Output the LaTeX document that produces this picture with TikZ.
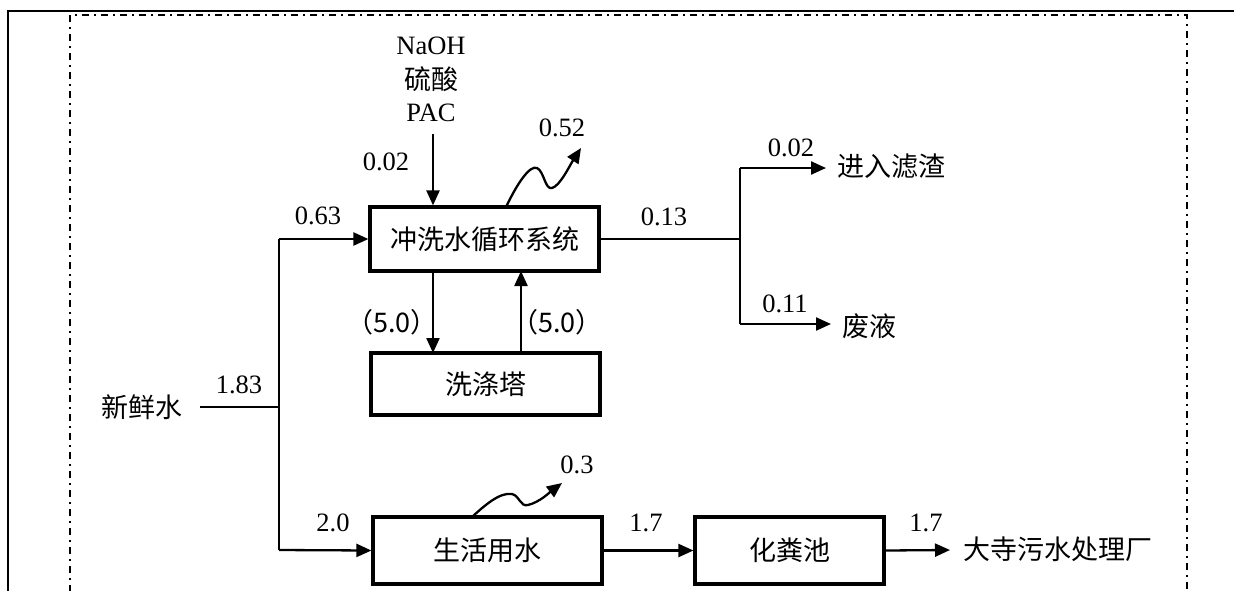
\documentclass[tikz,border=0pt]{standalone}
\usepackage{fontspec}
\setmainfont{Liberation Serif}
\newfontfamily\cjk{Noto Sans CJK SC}
\usetikzlibrary{arrows.meta}
\begin{document}
\begin{tikzpicture}[x=1pt,y=-1pt,
  procbox/.style={draw, line width=3.2pt, inner sep=0pt, minimum width=229pt, minimum height=64pt, font=\cjk\fontsize{27}{30}\selectfont},
  lbl/.style={inner sep=0pt, font=\fontsize{26.5}{30}\selectfont},
  clbl/.style={inner sep=0pt, font=\cjk\fontsize{27}{30}\selectfont},
  conn/.style={line width=2.3pt},
  arr/.style={line width=2.3pt, -{Triangle[length=15pt,width=13pt]}},
  frame/.style={line width=2.5pt},
  dd/.style={line width=1.6pt, dash pattern=on 7pt off 5pt on 2pt off 5pt}]
\useasboundingbox (0,0) rectangle (1234,590);
% frames
\draw[frame] (8,592) -- (8,11) -- (1236,11);
\draw[dd] (70,592) -- (70,15) -- (1187,15) -- (1187,592);

% boxes
\node[procbox] (wash) at (484.5,239) {冲洗水循环系统};
\node[procbox, minimum height=62pt] (tower) at (485.5,384) {洗涤塔};
\node[procbox, minimum height=67pt] (life) at (487.5,550.5) {生活用水};
\node[procbox, minimum width=189pt, minimum height=67pt] (septic) at (789.5,550.5) {化粪池};

% texts
\node[clbl] (fresh) at (142,407) {新鲜水};
\node[lbl] (naoh) at (431,46) {NaOH};
\node[clbl] (acid) at (431,79) {硫酸};
\node[lbl] (pac) at (431,113) {PAC};
\node[clbl, anchor=west] (slag) at (837,166) {进入滤渣};
\node[clbl, anchor=west] (waste) at (842,326) {废液};
\node[clbl, anchor=west] (plant) at (963,549) {大寺污水处理厂};

% labels
\node[lbl] (l183) at (239,385) {1.83};
\node[lbl] (l063) at (318,216) {0.63};
\node[lbl] (l20) at (333,523) {2.0};
\node[lbl] (l002) at (386,162) {0.02};
\node[lbl] (l052) at (562,128) {0.52};
\node[lbl] (l013) at (664,217) {0.13};
\node[lbl] (l002b) at (791,148) {0.02};
\node[lbl] (l011) at (785,304) {0.11};
\node[clbl] (l50a) at (392,322) {（5.0）};
\node[clbl] (l50b) at (557,322) {（5.0）};
\node[lbl] (l03) at (577,465) {0.3};
\node[lbl] (l17a) at (646,523) {1.7};
\node[lbl] (l17b) at (926,523) {1.7};

% coordinates
\coordinate (j1) at (279,407);
\coordinate (jtop) at (279,239);
\coordinate (jbot) at (279,550);
\coordinate (j2) at (740,239);
\coordinate (j2t) at (740,168);
\coordinate (j2b) at (740,324);
\coordinate (tslag) at (826,168);
\coordinate (twaste) at (831,324);
\coordinate (tplant) at (950,550);
\coordinate (chemtop) at (433,134);
\coordinate (w1s) at (506,207);
\coordinate (w1e) at (581,148);
\coordinate (w2s) at (472,517);
\coordinate (w2e) at (562,483);

% connectors
\draw[conn] (fresh.east -| 200,0) -- (j1);
\draw[conn] (jtop) -- (jbot);
\draw[arr] (jtop) -- (wash.west);
\draw[arr] (jbot) -- (life.west);
\draw[arr] (chemtop) -- (chemtop |- wash.north);
\draw[arr] (433,271) -- (433,353);
\draw[arr] (521,353) -- (521,271);
\draw[conn] (wash.east) -- (j2);
\draw[conn] (j2t) -- (j2b);
\draw[arr] (j2t) -- (tslag);
\draw[arr] (j2b) -- (twaste);
\draw[arr] (life.east) -- (septic.west);
\draw[arr] (septic.east) -- (tplant);
% wavy evaporation arrows
\draw[arr] (w1s) .. controls (518,182) and (530,165) .. (537,168)
  .. controls (544,171) and (545,190) .. (552,188)
  .. controls (560,186) and (570,165) .. (w1e);
\draw[arr] (w2s) .. controls (485,505) and (500,492) .. (512,494)
  .. controls (520,496) and (520,507) .. (528,505)
  .. controls (540,502) and (550,492) .. (w2e);
\end{tikzpicture}
\end{document}
